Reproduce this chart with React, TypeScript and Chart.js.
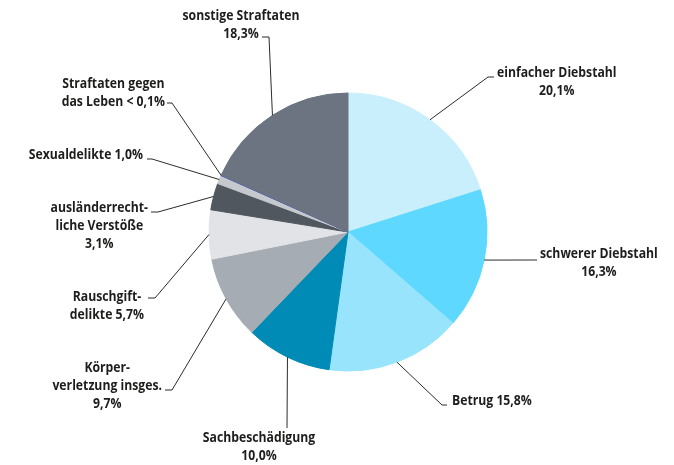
import React, { useEffect, useRef } from "react";
import { Chart, registerables } from "chart.js";

Chart.register(...registerables);

const categories = [
  "einfacher Diebstahl",
  "schwerer Diebstahl",
  "Betrug",
  "Sachbeschädigung",
  "Körperverletzung insges.",
  "Rauschgiftdelikte",
  "ausländerrechtliche Verstöße",
  "Sexualdelikte",
  "Straftaten gegen das Leben",
  "sonstige Straftaten",
];

const values = [20.1, 16.3, 15.8, 10.0, 9.7, 5.7, 3.1, 1.0, 0.05, 18.3];

const valueLabels = ["20,1%", "16,3%", "15,8%", "10,0%", "9,7%", "5,7%", "3,1%", "1,0%", "< 0,1%", "18,3%"];

const labelLines = [
  ["einfacher Diebstahl", valueLabels[0]],
  ["schwerer Diebstahl", valueLabels[1]],
  ["Betrug " + valueLabels[2]],
  ["Sachbeschädigung", valueLabels[3]],
  ["Körper-", "verletzung insges.", valueLabels[4]],
  ["Rauschgift-", "delikte " + valueLabels[5]],
  ["ausländerrecht-", "liche Verstöße", valueLabels[6]],
  ["Sexualdelikte " + valueLabels[7]],
  ["Straftaten gegen", "das Leben " + valueLabels[8]],
  ["sonstige Straftaten", valueLabels[9]],
];

const colors = [
  "#c9effc",
  "#5ed8fe",
  "#98e4fd",
  "#008ab6",
  "#a6acb3",
  "#e1e3e7",
  "#50575f",
  "#c5c8cd",
  "#3b4fc8",
  "#6b7480",
];

// layout of leader lines and label blocks (canvas pixel coordinates)
type LabelLayout = {
  pts: [number, number][];
  anchor: "left" | "right" | "center";
  x: number;
  y: number;
};

const labelLayout: LabelLayout[] = [
  { pts: [[488, 77], [494, 77]], anchor: "left", x: 497, y: 73 },
  { pts: [[537, 260]], anchor: "left", x: 540, y: 254 },
  { pts: [[442, 405], [447, 405]], anchor: "left", x: 452, y: 401 },
  { pts: [[287, 428]], anchor: "center", x: 259, y: 438 },
  { pts: [[172, 390], [165, 390]], anchor: "right", x: 162, y: 368 },
  { pts: [[155, 298], [148, 298]], anchor: "right", x: 144, y: 297 },
  { pts: [[158, 212], [151, 212]], anchor: "right", x: 148, y: 208 },
  { pts: [[152, 159], [147, 159]], anchor: "right", x: 143, y: 155 },
  { pts: [[172, 103], [167, 103]], anchor: "right", x: 165, y: 84 },
  { pts: [[269, 37], [262, 37]], anchor: "center", x: 241, y: 16 },
];

const FONT = 'bold 14px "Open Sans", Lato, sans-serif';
const LINE_H = 18;
const REF_TEXT = "sonstige Straftaten";
const REF_WIDTH = 117;

const calloutPlugin = {
  id: "callouts",
  afterDraw(chart: any) {
    const ctx = chart.ctx as CanvasRenderingContext2D;
    const meta = chart.getDatasetMeta(0);
    ctx.save();
    ctx.font = FONT;
    const sxScale = Math.min(1, REF_WIDTH / ctx.measureText(REF_TEXT).width);
    meta.data.forEach((arc: any, i: number) => {
      const lay = labelLayout[i];
      if (!lay) return;
      const p = arc.getProps(["x", "y", "startAngle", "endAngle", "outerRadius"], true);
      const mid = (p.startAngle + p.endAngle) / 2;
      const sx = p.x + Math.cos(mid) * p.outerRadius;
      const sy = p.y + Math.sin(mid) * p.outerRadius;
      ctx.beginPath();
      ctx.strokeStyle = "#2b2b2b";
      ctx.lineWidth = 1;
      ctx.moveTo(sx, sy);
      lay.pts.forEach(([px, py]) => ctx.lineTo(px, py));
      ctx.stroke();

      const lines = labelLines[i];
      const maxW = Math.max(...lines.map((l) => ctx.measureText(l).width)) * sxScale;
      let cx = lay.x;
      if (lay.anchor === "left") cx = lay.x + maxW / 2;
      else if (lay.anchor === "right") cx = lay.x - maxW / 2;
      ctx.fillStyle = "#1d1d1b";
      ctx.textAlign = "center";
      ctx.textBaseline = "middle";
      lines.forEach((l, j) => {
        ctx.save();
        ctx.translate(cx, lay.y + j * LINE_H);
        ctx.scale(sxScale, 1);
        ctx.fillText(l, 0, 0);
        ctx.restore();
      });
    });
    ctx.restore();
  },
};

export default function App() {
  const ref = useRef<HTMLCanvasElement>(null);
  useEffect(() => {
    if (!ref.current) return;
    const chart = new Chart(ref.current, {
      type: "pie",
      data: {
        labels: categories,
        datasets: [
          {
            data: values,
            backgroundColor: colors,
            borderColor: colors,
            borderWidth: 1,
          },
        ],
      },
      options: {
        animation: false,
        responsive: false,
        devicePixelRatio: 1,
        events: [],
        layout: { padding: { left: 208.5, right: 186.5, top: 92.5, bottom: 93.5 } },
        plugins: {
          legend: { display: false },
          tooltip: { enabled: false },
        },
      },
      plugins: [calloutPlugin],
    });
    return () => chart.destroy();
  }, []);
  return (
    <div style={{ position: "absolute", left: 0, top: 0, width: 674, height: 465, background: "#fff" }}>
      <canvas ref={ref} width={674} height={465} />
    </div>
  );
}
